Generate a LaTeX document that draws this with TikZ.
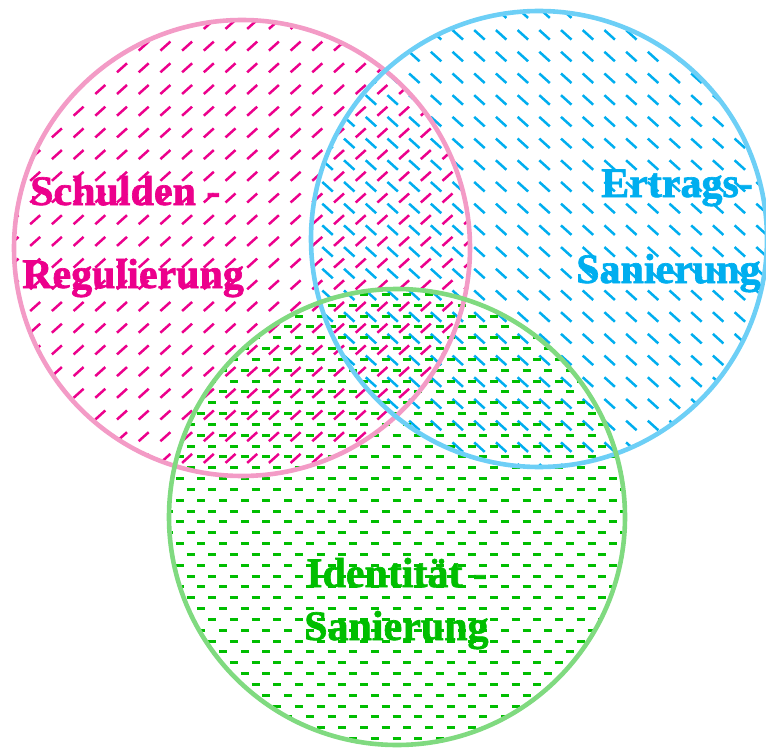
\documentclass[tikz,border=0pt]{standalone}
\usepackage{fontspec}
\setmainfont{Liberation Serif}[BoldFeatures={FakeBold=1.6}]
\definecolor{pinkline}{HTML}{F39BC6}
\definecolor{blueline}{HTML}{6DCFF6}
\definecolor{greenline}{HTML}{80DA80}
\definecolor{pinkink}{HTML}{EC008C}
\definecolor{blueink}{HTML}{00AEEF}
\definecolor{greenink}{HTML}{00BE00}
\tikzset{
  outline/.style={line width=4.6pt},
  hatchstroke/.style={line width=2.5pt},
  greendash/.style={line width=3pt, greenink},
  label/.style={anchor=base west, inner sep=0pt, font=\fontsize{42}{50}\selectfont\bfseries},
}
\begin{document}
\begin{tikzpicture}[x=1pt,y=-1pt]
\useasboundingbox (0,0) rectangle (766,749);
\coordinate (cp) at (242,248);
\coordinate (cb) at (539,239);
\coordinate (cg) at (397,517);
% pink hatch
\begin{scope}
  \clip (cp) circle[radius=228];
  \foreach \i in {-5,...,17}{
    \foreach \j in {-4,...,18}{
      \draw[hatchstroke, pinkink] ({117+21.7*\i},{94+21.7*\j}) -- ++(10,-9);
    }
  }
\end{scope}
% blue hatch
\begin{scope}
  \clip (cb) circle[radius=228];
  \foreach \i in {-12,...,10}{
    \foreach \j in {-3,...,19}{
      \draw[hatchstroke, blueink] ({561+21.7*\i},{73.5+21.7*\j}) -- ++(10.5,9.5);
    }
  }
\end{scope}
% green dashes
\begin{scope}
  \clip (cg) circle[radius=229];
  \foreach \j in {-39,...,4}{
    \pgfmathsetmacro{\off}{mod(\j+100,2)*10.83}
    \foreach \i in {-10,...,13}{
      \draw[greendash] ({360-\off+21.67*\i},{706+10.83*\j}) -- ++(8,0);
    }
  }
\end{scope}
% outlines
\draw[outline, pinkline] (cp) circle[radius=228];
\draw[outline, blueline] (cb) circle[radius=228];
\draw[outline, greenline] (cg) circle[radius=228];
% labels
\node[label, text=pinkink] (s1) at (30,205) {Schulden -};
\node[label, text=pinkink] (s2) at (22,288) {Regulierung};
\node[label, text=blueink] (e1) at (601,197) {Ertrags-};
\node[label, text=blueink] (e2) at (576,283) {Sanierung};
\node[label, text=greenink] (i1) at (306,587) {Identität -};
\node[label, text=greenink] (i2) at (304,640) {Sanierung};
\end{tikzpicture}
\end{document}
